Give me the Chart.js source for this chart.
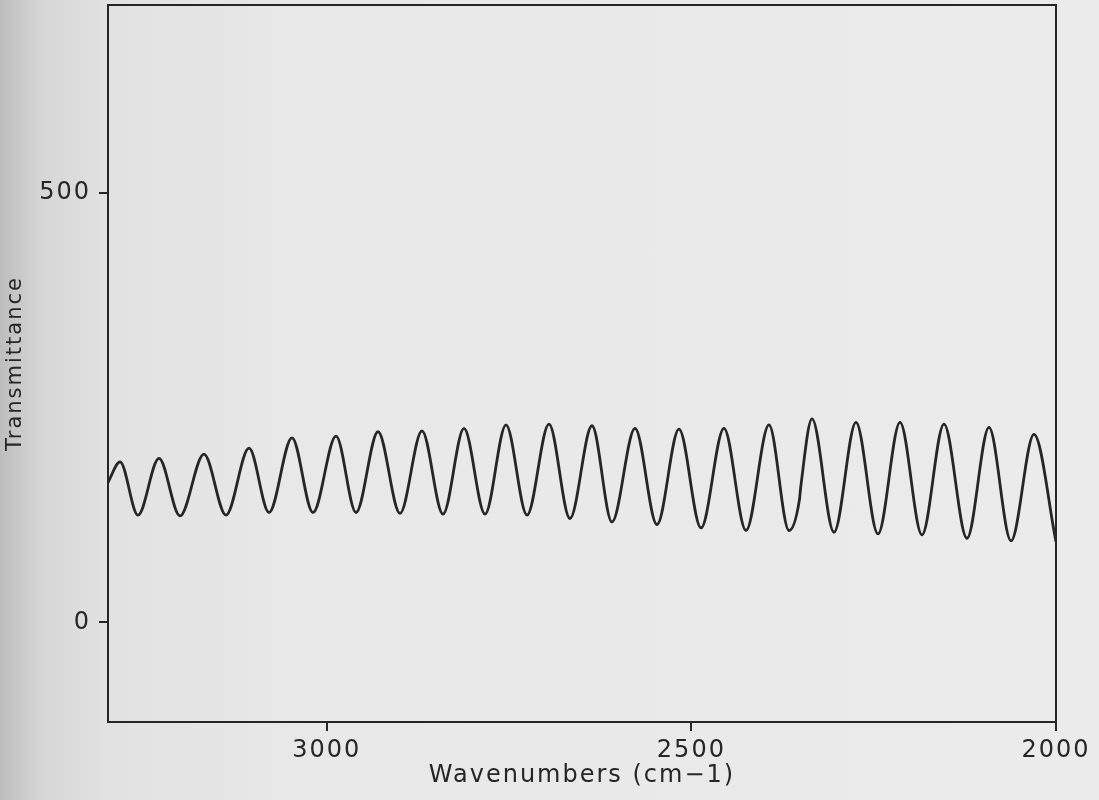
<!DOCTYPE html>
<html>
<head>
<meta charset="utf-8">
<script src="https://cdn.jsdelivr.net/npm/chart.js@4"></script>
<style>
  html, body { margin: 0; padding: 0; }
  body {
    width: 1099px; height: 800px; overflow: hidden;
    background: linear-gradient(to right, #bdbdbd 0px, #d6d6d6 40px, #e2e2e2 110px, #e8e8e8 300px, #ebebeb 1099px);
  }
  #wrap { position: relative; width: 1099px; height: 800px; }
</style>
</head>
<body>
<div id="wrap"><canvas id="c" width="1099" height="800"></canvas></div>
<script>
// Wavenumbers (cm-1) at the sampled points (peaks / troughs of the fringes)
const wavenumbers = [
  3300, 3283.5, 3258.9, 3230.1, 3201.3, 3168.4, 3138.2, 3106.6, 3079.2, 3047.7,
  3018.9, 2987.3, 2959.9, 2929.7, 2899.6, 2869.4, 2840.6, 2811.8, 2783.0, 2754.2,
  2725.4, 2695.3, 2666.5, 2636.3, 2608.9, 2577.3, 2547.2, 2517.0, 2486.8, 2455.3,
  2425.1, 2393.6, 2366.1, 2352.0, 2350.0, 2334.6, 2304.4, 2274.3, 2244.1, 2213.9,
  2183.8, 2153.6, 2122.1, 2091.9, 2061.7, 2030.2, 2000
];
// Transmittance values
const transmittance = [
  163, 187, 125, 191, 124, 196, 125, 203, 128, 215,
  128, 217, 128, 222, 127, 223, 126, 226, 126, 230,
  125, 231, 121, 229, 117, 226, 114, 225, 110, 226,
  107, 230, 107, 142, 158, 237, 105, 233, 103, 233,
  102, 231, 98, 227, 95, 219, 94
];
const xTickValues = [3000, 2500, 2000];
const yTickValues = [0, 500];
const xTitle = 'Wavenumbers (cm\u22121)';
const yTitle = 'Transmittance';

const points = wavenumbers.map((w, i) => ({ x: w, y: transmittance[i] }));
const ink = '#262626';
const FONT = "'DejaVu Sans', sans-serif";

const spacingPlugin = {
  id: 'spacing',
  beforeDraw(chart) { chart.ctx.letterSpacing = '2px'; }
};

function zeroPad(s) { s.paddingTop = 0; s.paddingBottom = 0; s.paddingLeft = 0; s.paddingRight = 0; }

new Chart(document.getElementById('c'), {
  type: 'line',
  data: {
    datasets: [{
      data: points,
      borderColor: ink,
      borderWidth: 2.8,
      pointRadius: 0,
      fill: false,
      cubicInterpolationMode: 'monotone'
    }]
  },
  options: {
    responsive: false,
    animation: false,
    events: [],
    layout: { padding: { top: 5, right: 43, left: 0, bottom: 0 } },
    plugins: { legend: { display: false }, tooltip: { enabled: false }, title: { display: false } },
    scales: {
      x: {
        type: 'linear', position: 'bottom', reverse: true, min: 2000, max: 3300,
        afterBuildTicks(s) { s.ticks = xTickValues.map(v => ({ value: v })); },
        afterFit(s) { s.height = 78; zeroPad(s); },
        ticks: { color: ink, font: { family: FONT, size: 24 }, padding: 5, maxRotation: 0, autoSkip: false,
                 callback: v => String(v) },
        grid: { drawOnChartArea: false, drawTicks: true, tickLength: 9, color: ink, lineWidth: 2 },
        border: { display: true, color: ink, width: 2 },
        title: { display: true, text: xTitle, color: ink, font: { family: FONT, size: 24 }, padding: { top: 0, bottom: 10 } }
      },
      y: {
        type: 'linear', position: 'left', min: -116, max: 719,
        afterBuildTicks(s) { s.ticks = yTickValues.map(v => ({ value: v })); },
        afterFit(s) { s.width = 108; zeroPad(s); },
        ticks: { color: ink, font: { family: FONT, size: 24 }, padding: 8, autoSkip: false,
                 callback: v => String(v) },
        grid: { drawOnChartArea: false, drawTicks: true, tickLength: 9, color: ink, lineWidth: 2 },
        border: { display: true, color: ink, width: 2 },
        title: { display: true, text: yTitle, color: ink, font: { family: FONT, size: 21 }, padding: { top: 3, bottom: 0 } }
      },
      x2: {
        type: 'linear', position: 'top', reverse: true, min: 2000, max: 3300,
        afterFit(s) { s.height = 0; zeroPad(s); },
        ticks: { display: false },
        grid: { drawOnChartArea: false, drawTicks: false },
        border: { display: true, color: ink, width: 2 }
      },
      y2: {
        type: 'linear', position: 'right', min: -116, max: 719,
        afterFit(s) { s.width = 0; zeroPad(s); },
        ticks: { display: false },
        grid: { drawOnChartArea: false, drawTicks: false },
        border: { display: true, color: ink, width: 2 }
      }
    }
  },
  plugins: [spacingPlugin]
});
</script>
</body>
</html>
